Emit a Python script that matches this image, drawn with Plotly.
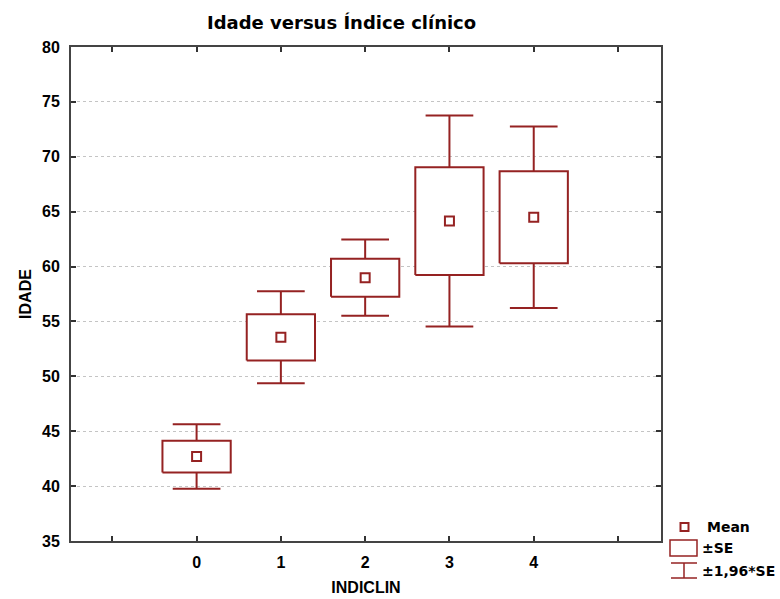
import plotly.graph_objects as go

# ---- data ----
categories = [0, 1, 2, 3, 4]
means = [42.69, 53.55, 58.99, 64.14, 64.49]
se = [1.445, 2.115, 1.73, 4.905, 4.19]
ci196 = [2.935, 4.19, 3.465, 9.61, 8.27]
x_tickvals = [-1, 0, 1, 2, 3, 4, 5]
x_ticktext = ["", "0", "1", "2", "3", "4", ""]
y_tickvals = [35, 40, 45, 50, 55, 60, 65, 70, 75, 80]

COLOR = "#952222"
FONT = "Liberation Sans"
TFONT = "DejaVu Sans"
BOX_HALF = 0.405
CAP_HALF = 0.283

fig = go.Figure()

# whiskers (±1.96*SE)
wx, wy = [], []
for c, m, s, w in zip(categories, means, se, ci196):
    wx += [c, c, None, c - CAP_HALF, c + CAP_HALF, None]
    wy += [m + s, m + w, None, m + w, m + w, None]
    wx += [c, c, None, c - CAP_HALF, c + CAP_HALF, None]
    wy += [m - s, m - w, None, m - w, m - w, None]
fig.add_trace(go.Scatter(x=wx, y=wy, mode="lines", line=dict(color=COLOR, width=2),
                         hoverinfo="skip", showlegend=False))

# boxes (±SE)
for c, m, s in zip(categories, means, se):
    fig.add_trace(go.Scatter(
        x=[c - BOX_HALF, c + BOX_HALF, c + BOX_HALF, c - BOX_HALF, c - BOX_HALF],
        y=[m - s, m - s, m + s, m + s, m - s],
        mode="lines", fill="toself", fillcolor="white",
        line=dict(color=COLOR, width=2), hoverinfo="skip", showlegend=False))

# means
fig.add_trace(go.Scatter(x=categories, y=means, mode="markers",
                         marker=dict(symbol="square", size=9, color="white",
                                     line=dict(color=COLOR, width=2)),
                         showlegend=False))

fig.update_layout(
    width=780, height=599,
    margin=dict(l=71, r=119, t=47, b=58),
    paper_bgcolor="white", plot_bgcolor="white",
    font=dict(family=FONT, color="black"),
    xaxis=dict(range=[-1.49, 5.51], tickvals=x_tickvals, ticktext=x_ticktext,
               ticks="inside", ticklen=5, tickwidth=1.5, tickcolor="#333",
               showline=True, linecolor="#444", linewidth=2, mirror="ticks",
               showgrid=False, zeroline=False, ticklabelstandoff=6, automargin=False,
               tickfont=dict(size=16, family=FONT, weight="bold"),
               title=dict(text="INDICLIN", font=dict(size=16, family=FONT, weight="bold"),
                          standoff=12)),
    yaxis=dict(range=[35, 80], tickvals=y_tickvals,
               ticks="inside", ticklen=5, tickwidth=1.5, tickcolor="#333",
               showline=True, linecolor="#444", linewidth=2, mirror="ticks",
               showgrid=True, gridcolor="#c4c4c4", griddash="dot", gridwidth=1,
               zeroline=False, ticklabelstandoff=6, automargin=False,
               tickfont=dict(size=16, family=FONT, weight="bold"),
               title=dict(text="IDADE", font=dict(size=16, family=FONT, weight="bold"),
                          standoff=6)),
)

# title
fig.add_annotation(text="Idade versus Índice clínico", xref="paper", yref="paper",
                   x=(341 - 71) / 590, y=1, yshift=25, yanchor="middle", xanchor="center",
                   showarrow=False, font=dict(size=18, family=TFONT, weight="bold"))

# custom legend (paper coords: plot area 71..661 px, 47..541 px)
def px(xp):
    return (xp - 71) / 590
def py(yp):
    return (541 - yp) / 494

leg_font = dict(size=14, family=TFONT, weight="bold", color="black")
fig.add_shape(type="rect", xref="paper", yref="paper",
              x0=px(680.5), x1=px(688.5), y0=py(531), y1=py(523),
              line=dict(color=COLOR, width=2), fillcolor="white")
fig.add_annotation(text="Mean", xref="paper", yref="paper", x=px(705), y=py(527),
                   xanchor="left", yanchor="middle", showarrow=False, font=leg_font)
fig.add_shape(type="rect", xref="paper", yref="paper",
              x0=px(670), x1=px(697), y0=py(556), y1=py(540),
              line=dict(color=COLOR, width=1.5), fillcolor="white")
fig.add_annotation(text="±SE", xref="paper", yref="paper", x=px(700), y=py(548),
                   xanchor="left", yanchor="middle", showarrow=False, font=leg_font)
for (x0, y0, x1, y1) in [(684, 563, 684, 578), (671, 563, 697, 563), (671, 578, 697, 578)]:
    fig.add_shape(type="line", xref="paper", yref="paper",
                  x0=px(x0), x1=px(x1), y0=py(y0), y1=py(y1),
                  line=dict(color=COLOR, width=1.5))
fig.add_annotation(text="±1,96*SE", xref="paper", yref="paper", x=px(700), y=py(571),
                   xanchor="left", yanchor="middle", showarrow=False, font=leg_font)

fig.write_html("out.html")
